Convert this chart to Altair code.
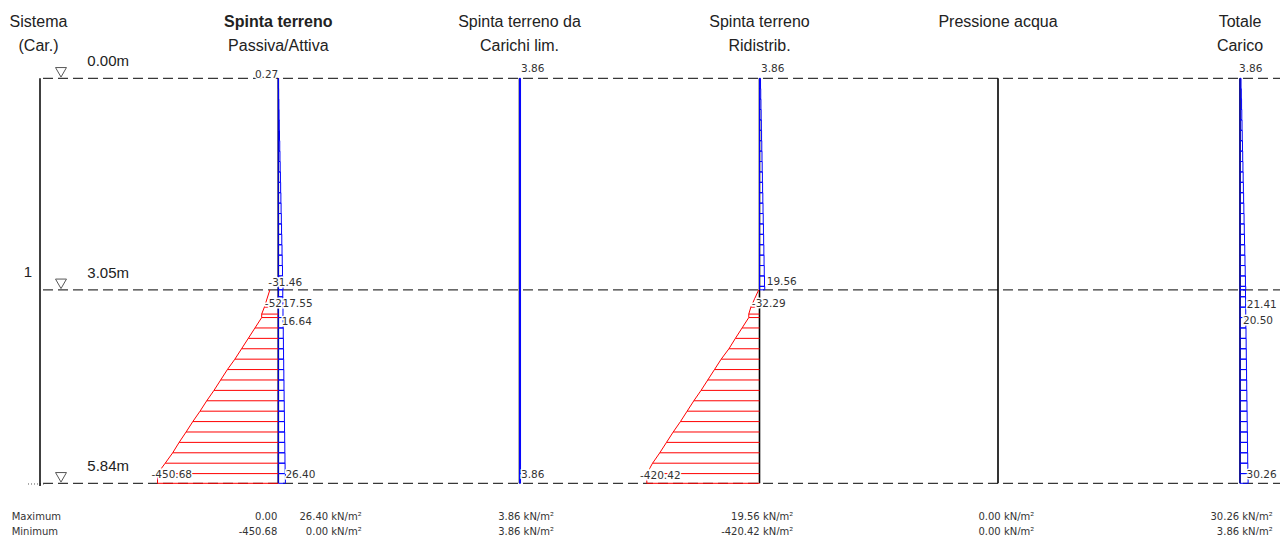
import altair as alt
import pandas as pd

# ---------------- values ----------------
HEADER_KEYS = ["sys", "p1", "p2", "p3", "p4", "p6"]
HEADER_LINE1 = ["Sistema", "Spinta terreno", "Spinta terreno da", "Spinta terreno", "Pressione acqua", "Totale"]
HEADER_LINE2 = ["(Car.)", "Passiva/Attiva", "Carichi lim.", "Ridistrib.", "", "Carico"]

LEVEL_DEPTHS = [0.00, 3.05, 5.84]
LEVEL_LABELS = ["0.00m", "3.05m", "5.84m"]
LAYER_NAMES = ["1"]
LAYER_DEPTHS = [3.05]

# segment edges (m)
DEPTH_UPPER = [0.00, 0.15, 0.30, 0.45, 0.60, 0.75, 0.90, 1.05, 1.20, 1.35, 1.50,
               1.65, 1.80, 1.95, 2.10, 2.25, 2.40, 2.55, 2.70, 2.85, 3.00, 3.05]
DEPTH_LOWER = [3.05, 3.15, 3.30, 3.45, 3.60, 3.75, 3.90, 4.05, 4.20, 4.35, 4.50,
               4.65, 4.80, 4.95, 5.10, 5.25, 5.40, 5.55, 5.70, 5.84]

# Spinta terreno attiva (kN/m2), one value per segment
ACTIVE_UPPER = [0.27, 1.12, 1.97, 2.82, 3.67, 4.52, 5.37, 6.22, 7.07, 7.92, 8.77,
                9.62, 10.47, 11.32, 12.17, 13.02, 13.87, 14.72, 15.57, 16.42, 17.55]
ACTIVE_LOWER = [16.64, 16.99, 17.51, 18.04, 18.56, 19.09, 19.61, 20.14, 20.66, 21.19,
                21.71, 22.24, 22.76, 23.29, 23.81, 24.34, 24.86, 25.39, 26.40]

# Spinta terreno da carichi limitrofi
CARICHI_DEPTH = [0.00, 5.84]
CARICHI = [3.86]

# Spinta terreno ridistribuita (upper, positive)
RIDISTRIB_UPPER = [3.86, 4.63, 5.40, 6.18, 6.95, 7.72, 8.50, 9.27, 10.04, 10.81, 11.59,
                   12.36, 13.13, 13.91, 14.68, 15.45, 16.22, 17.00, 17.77, 18.54, 19.56]

# Totale carico
TOTALE_UPPER = [3.86, 4.98, 5.83, 6.68, 7.53, 8.38, 9.23, 10.08, 10.93, 11.78, 12.63,
                13.48, 14.33, 15.18, 16.03, 16.88, 17.73, 18.58, 19.43, 20.28, 21.41]
TOTALE_LOWER = [20.50, 20.85, 21.37, 21.90, 22.42, 22.95, 23.47, 24.00, 24.52, 25.05,
                25.57, 26.10, 26.62, 27.15, 27.67, 28.20, 28.72, 29.25, 30.26]

# passive (negative) lines
NEG_DEPTH = [3.30, 3.40, 3.45, 3.60, 3.75, 3.90, 4.05, 4.20, 4.35, 4.50, 4.65,
             4.80, 4.95, 5.10, 5.25, 5.40, 5.55, 5.70, 5.84]
PASSIVE = [-52.0, -62.0, -62.0, -87.0, -112.0, -137.0, -162.0, -190.0, -215.0, -240.0,
           -267.0, -292.0, -319.0, -344.0, -370.0, -394.0, -422.0, -450.68, -450.68]
PASSIVE_TOP = -31.46
RIDISTRIB_NEG = [-32.29, -40.0, -40.0, -65.0, -90.0, -114.0, -143.0, -168.0, -193.0, -218.0,
                 -245.0, -270.0, -295.0, -322.0, -347.0, -372.0, -399.0, -420.42, -420.42]
RIDISTRIB_NEG_TOP = -3.0

# value labels
LABEL_PANEL = ["p1", "p1", "p1", "p1", "p1", "p1", "p1",
               "p2", "p2",
               "p3", "p3", "p3", "p3",
               "p6", "p6", "p6", "p6"]
LABEL_DEPTH = [0.00, 3.05, 3.30, 3.30, 3.45, 5.70, 5.70,
               0.00, 5.70,
               0.00, 3.05, 3.30, 5.70,
               0.00, 3.30, 3.45, 5.70]
LABEL_VALUE = [0.27, -31.46, -52.0, 17.55, 16.64, -450.68, 26.40,
               3.86, 3.86,
               3.86, 19.56, -32.29, -420.42,
               3.86, 21.41, 20.50, 30.26]
LABEL_TEXT = ["0.27", "-31.46", "-52", "17.55", "16.64", "-450.68", "26.40",
              "3.86", "3.86",
              "3.86", "19.56", "-32.29", "-420.42",
              "3.86", "21.41", "20.50", "30.26"]

# summary table
SUMMARY_COLS = ["p1a", "p1b", "p2", "p3", "p4", "p6"]
SUMMARY_MAX = ["0.00", "26.40 kN/m²", "3.86 kN/m²", "19.56 kN/m²", "0.00 kN/m²", "30.26 kN/m²"]
SUMMARY_MIN = ["-450.68", "0.00 kN/m²", "3.86 kN/m²", "-420.42 kN/m²", "0.00 kN/m²", "3.86 kN/m²"]
SUMMARY_ROWS = ["Maximum", "Minimum"]

# ---------------- layout (pixels, plot coordinates) ----------------
W, H = 1272, 527
PX_PER_M = 69.35
TOP_PX = 70.3
Y0 = -TOP_PX / PX_PER_M
Y1 = (H - TOP_PX) / PX_PER_M
K = 0.268  # px per kN/m2
BASE = {"sys": 30.5, "p1": 270.3, "p2": 511.5, "p3": 751.5, "p4": 990.0, "p6": 1232.0}
SUMMARY_X = {"p1a": 269.3, "p1b": 353.7, "p2": 546.0, "p3": 785.3, "p4": 1026.3, "p6": 1264.7}
SUMMARY_Y = [508.5, 523.5]
# per-label pixel nudges (dx, dy) and alignment
LABEL_DX = [0, -1.5, 0.5, -0.5, -1, -6, 0, 0.5, 0.5, 0.5, 2, 1, -6.8, -2, 1, -2.5, -1.5]
LABEL_DY = [-3, -7, -2.7, -2.7, 4, 1, 1, -9.5, 1, -9.5, -8, -2.7, 2, -9.5, -1.7, 3.5, 1]
LABEL_ALIGN = ["right"] + ["left"] * 16

FONT = "Liberation Sans"
SMALL_FONT = "DejaVu Sans"
TXT = "#222222"
BLUE = "#0000ff"
RED = "#ff0000"


def xpos(panel, v):
    return BASE[panel] + K * v


# ---------------- tables ----------------
blue_rows = []
def add_segments(panel, edges, vals):
    for i, v in enumerate(vals):
        blue_rows.append({"panel": panel, "d0": edges[i], "d1": edges[i + 1],
                          "xb": BASE[panel], "xv": xpos(panel, v)})

add_segments("p1", DEPTH_UPPER, ACTIVE_UPPER)
add_segments("p1", DEPTH_LOWER, ACTIVE_LOWER)
add_segments("p2", CARICHI_DEPTH, CARICHI)
add_segments("p3", DEPTH_UPPER, RIDISTRIB_UPPER)
add_segments("p6", DEPTH_UPPER, TOTALE_UPPER)
add_segments("p6", DEPTH_LOWER, TOTALE_LOWER)
blue_df = pd.DataFrame(blue_rows)

red_rows, env_rows = [], []
for panel, vals, top in [("p1", PASSIVE, PASSIVE_TOP), ("p3", RIDISTRIB_NEG, RIDISTRIB_NEG_TOP)]:
    env_rows.append({"panel": panel, "d": 3.05, "xv": xpos(panel, top)})
    for d, v in zip(NEG_DEPTH, vals):
        red_rows.append({"panel": panel, "d": d, "xb": BASE[panel], "xv": xpos(panel, v)})
        env_rows.append({"panel": panel, "d": d, "xv": xpos(panel, v)})
red_df = pd.DataFrame(red_rows)
env_df = pd.DataFrame(env_rows)

base_df = pd.DataFrame({"panel": ["p1", "p2", "p3", "p4", "p6"],
                        "x": [BASE[p] for p in ["p1", "p2", "p3", "p4", "p6"]],
                        "d0": 0.0, "d1": LEVEL_DEPTHS[-1]})

level_df = pd.DataFrame({"d": LEVEL_DEPTHS, "label": LEVEL_LABELS,
                         "x0": 35.0, "x1": float(W), "xt": 79.3, "xtri": 53.0})
layer_df = pd.DataFrame({"d": LAYER_DEPTHS, "label": LAYER_NAMES, "x": 20.0})
sys_df = pd.DataFrame({"x": [32.0], "d0": [0.0], "d1": [LEVEL_DEPTHS[-1] + 0.04]})
ground_df = pd.DataFrame({"x0": [20.0], "x1": [37.0], "d": [LEVEL_DEPTHS[-1] + 0.01]})

lab_df = pd.DataFrame({
    "x": [xpos(p, v) + dx if a == "left" else BASE[p] + dx
          for p, v, dx, a in zip(LABEL_PANEL, LABEL_VALUE, LABEL_DX, LABEL_ALIGN)],
    "d": [d + dy / PX_PER_M for d, dy in zip(LABEL_DEPTH, LABEL_DY)],
    "t": LABEL_TEXT, "align": LABEL_ALIGN})

head_df = pd.DataFrame({"x": [BASE[k] for k in HEADER_KEYS], "l1": HEADER_LINE1, "l2": HEADER_LINE2,
                        "bold": [k == "p1" for k in HEADER_KEYS]})

sum_df = pd.DataFrame({"x": [SUMMARY_X[c] for c in SUMMARY_COLS] * 2,
                       "row": [0] * len(SUMMARY_COLS) + [1] * len(SUMMARY_COLS),
                       "t": SUMMARY_MAX + SUMMARY_MIN})
rowlab_df = pd.DataFrame({"row": [0, 1], "t": SUMMARY_ROWS, "x": 3.7})

# ---------------- scales ----------------
xs = alt.Scale(domain=[0, W], range=[0, W], nice=False, zero=False)
ys = alt.Scale(domain=[Y0, Y1], range=[0, H], nice=False, zero=False)

def X(f):
    return alt.X(f, type="quantitative", scale=xs, axis=None)

def Y(f):
    return alt.Y(f, type="quantitative", scale=ys, axis=None)

# ---------------- layers ----------------
levels = alt.Chart(level_df).mark_rule(color="#383838", strokeWidth=1.2, strokeDash=[10, 5]).encode(
    x=X("x0"), x2=alt.X2("x1"), y=Y("d"))

sys_line = alt.Chart(sys_df).mark_rule(color="#000000", strokeWidth=1.5).encode(
    x=X("x"), y=Y("d0"), y2=alt.Y2("d1"))

ground = alt.Chart(ground_df).mark_rule(color="#555555", strokeWidth=1, strokeDash=[1, 2]).encode(
    x=X("x0"), x2=alt.X2("x1"), y=Y("d"))

tri = alt.Chart(level_df).mark_point(shape="triangle-down", filled=False, size=120, color="#111111",
                                     strokeWidth=1, yOffset=-6).encode(x=X("xtri"), y=Y("d"))

level_txt = alt.Chart(level_df).mark_text(align="left", baseline="middle", dy=-17, font=FONT,
                                          fontSize=15, color=TXT).encode(x=X("xt"), y=Y("d"), text="label:N")

layer_txt = alt.Chart(layer_df).mark_text(align="center", baseline="middle", dy=-18, font=FONT,
                                          fontSize=15, color=TXT).encode(x=X("x"), y=Y("d"), text="label:N")

blue = alt.Chart(blue_df).mark_rect(fillOpacity=0, stroke=BLUE, strokeWidth=1).encode(
    x=X("xb"), x2=alt.X2("xv"), y=Y("d0"), y2=alt.Y2("d1"))

red = alt.Chart(red_df).mark_rule(color=RED, strokeWidth=1).encode(
    x=X("xb"), x2=alt.X2("xv"), y=Y("d"))

env = alt.Chart(env_df).mark_line(color=RED, strokeWidth=1).encode(
    x=X("xv"), y=Y("d"), order="d:Q", detail="panel:N")

baselines = alt.Chart(base_df).mark_rule(color="#000000", strokeWidth=1.6).encode(
    x=X("x"), y=Y("d0"), y2=alt.Y2("d1"))

def labels(align):
    src = alt.Chart(lab_df).transform_filter(alt.datum.align == align)
    halo = src.mark_text(align=align, baseline="middle", font=SMALL_FONT, fontSize=10.5,
                         stroke="white", strokeWidth=3, color="white").encode(
        x=X("x"), y=Y("d"), text="t:N")
    txt = src.mark_text(align=align, baseline="middle", font=SMALL_FONT, fontSize=10.5,
                        color="#333333").encode(x=X("x"), y=Y("d"), text="t:N")
    return halo + txt

def header(field, ypx, bold=None):
    src = alt.Chart(head_df)
    if bold is not None:
        src = src.transform_filter(alt.datum.bold if bold else ~alt.datum.bold)
    return src.mark_text(align="center", baseline="middle", font=FONT, fontSize=16, color=TXT,
                         fontWeight="bold" if bold else "normal").encode(
        x=X("x"), y=alt.value(ypx), text=f"{field}:N")

heads = header("l1", 13.5, True) + header("l1", 13.5, False) + header("l2", 38)

def summary_row(i):
    vals = alt.Chart(sum_df).transform_filter(alt.datum.row == i).mark_text(
        align="right", baseline="middle", font=SMALL_FONT, fontSize=10, color="#333333").encode(
        x=X("x"), y=alt.value(SUMMARY_Y[i]), text="t:N")
    lab = alt.Chart(rowlab_df).transform_filter(alt.datum.row == i).mark_text(
        align="left", baseline="middle", font=SMALL_FONT, fontSize=10, color="#333333").encode(
        x=X("x"), y=alt.value(SUMMARY_Y[i]), text="t:N")
    return vals + lab

chart = alt.layer(
    levels, ground, sys_line, baselines, blue, red, env, tri, level_txt, layer_txt,
    labels("left"), labels("right"), heads, summary_row(0), summary_row(1)
).properties(
    width=W, height=H, autosize=alt.AutoSizeParams(type="none"), padding=0, background="white"
).configure_view(stroke=None)

chart.save("out.html", embed_options={"renderer": "svg", "actions": False})
